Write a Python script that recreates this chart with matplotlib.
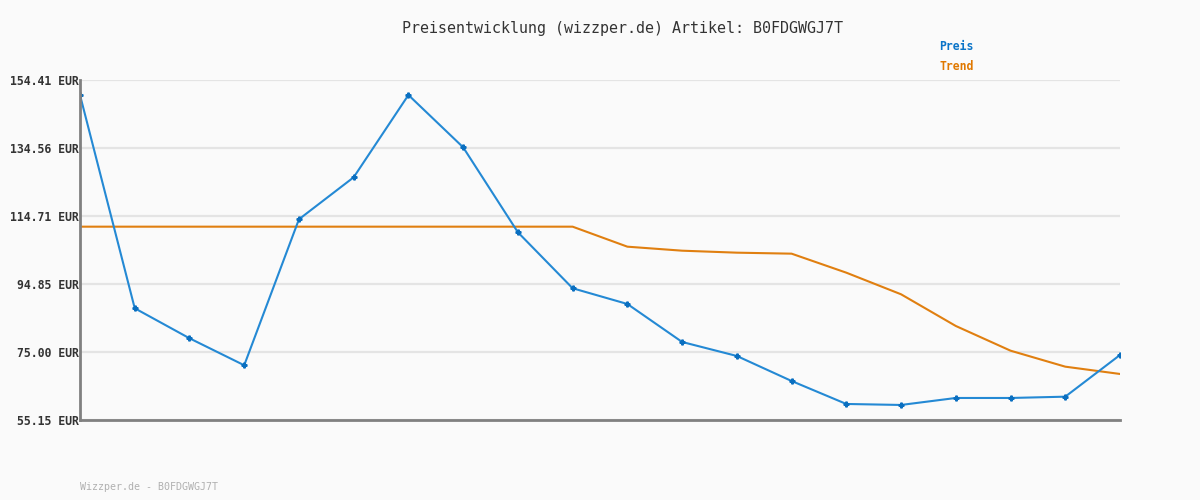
import matplotlib
matplotlib.use("Agg")
import matplotlib.pyplot as plt
import numpy as np

title = "Preisentwicklung (wizzper.de) Artikel: B0FDGWGJ7T"
footer = "Wizzper.de - B0FDGWGJ7T"
tick_values = [55.15, 75.00, 94.85, 114.71, 134.56, 154.41]
tick_labels = ["55.15 EUR", "75.00 EUR", "94.85 EUR", "114.71 EUR", "134.56 EUR", "154.41 EUR"]

preis = [150.03, 87.77, 79.01, 71.13, 113.75, 126.01, 150.03, 134.76, 109.95, 93.61,
         89.02, 77.93, 73.84, 66.54, 59.83, 59.54, 61.58, 61.58, 61.96, 74.13]
trend = [111.59, 111.59, 111.59, 111.59, 111.59, 111.59, 111.59, 111.59, 111.59, 111.59,
         105.75, 104.58, 104.00, 103.71, 98.16, 91.85, 82.60, 75.39, 70.72, 68.59]

x = np.arange(len(preis))

bg = "#fafafa"
fig = plt.figure(figsize=(12, 5), dpi=100, facecolor=bg)
ax = fig.add_axes([80/1200, 1 - 420/500, 1040/1200, 340/500])
ax.set_facecolor(bg)

mono = ["DejaVu Sans Mono"]

for v in tick_values:
    ax.axhline(v, color="#e4e4e4", lw=1.6, zorder=1)

ax.plot(x, trend, color="#e07f10", lw=1.5, zorder=3)
ax.plot(x, preis, color="#2489d4", lw=1.5, zorder=4,
        marker="P", markersize=3.5, markerfacecolor="#0a6fc0", markeredgecolor="#0a6fc0")

ax.set_xlim(0, len(preis) - 1)
ax.set_ylim(tick_values[0], tick_values[-1])
ax.set_xticks([])
ax.set_yticks(tick_values)
ax.set_yticklabels(tick_labels, family=mono, fontsize=8.3, fontweight="bold", color="#333333")
ax.tick_params(axis="y", length=0, pad=1)
for s in ["top", "right"]:
    ax.spines[s].set_visible(False)
for s in ["left", "bottom"]:
    ax.spines[s].set_color("#808080")
    ax.spines[s].set_linewidth(2)
    ax.spines[s].set_zorder(5)

fig.text(623/1200, 1 - 28/500, title, ha="center", va="center", family=mono, fontsize=10.8, color="#333333")
fig.text(939/1200, 1 - 47/500, "Preis", ha="left", va="center", family=mono, fontsize=8.3,
         fontweight="bold", color="#0a74c8")
fig.text(939/1200, 1 - 67/500, "Trend", ha="left", va="center", family=mono, fontsize=8.3,
         fontweight="bold", color="#e07800")
fig.text(80/1200, 1 - 487/500, footer, ha="left", va="center", family=mono, fontsize=7.2, color="#b0b0b0")

fig.savefig("out.png", dpi=100, facecolor=bg)
